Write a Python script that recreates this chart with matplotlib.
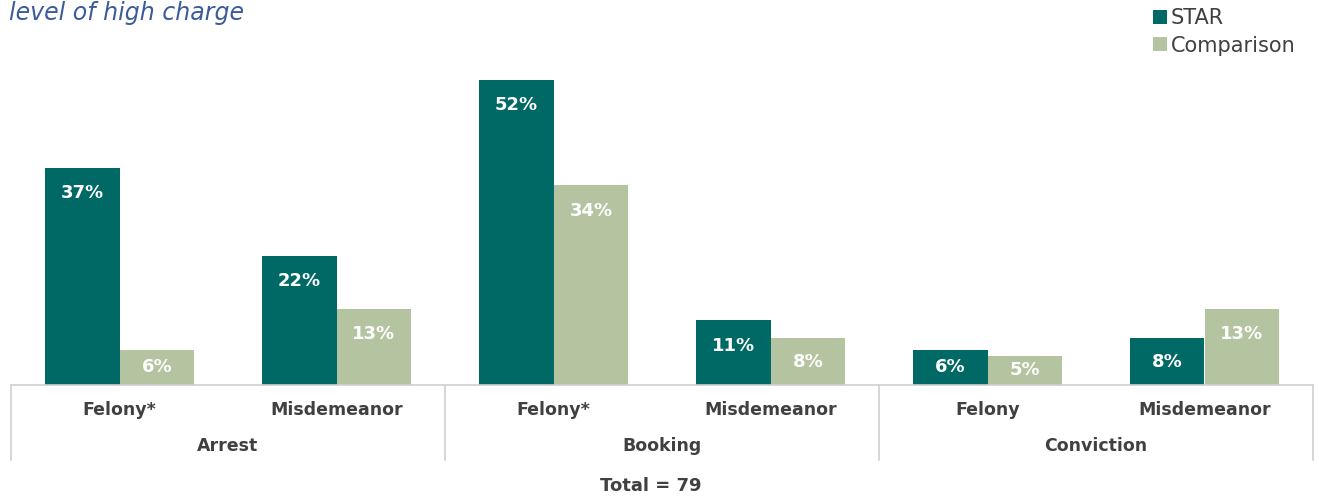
import matplotlib.pyplot as plt
import numpy as np

# data
groups = ['Arrest', 'Booking', 'Conviction']
charges = ['Felony*', 'Misdemeanor', 'Felony*', 'Misdemeanor', 'Felony', 'Misdemeanor']
star = [37, 22, 52, 11, 6, 8]
comparison = [6, 13, 34, 8, 5, 13]

STAR_COL = '#006966'
COMP_COL = '#B5C4A0'
TXT = '#404040'

plt.rcParams['font.family'] = ['DejaVu Sans']

W, H = 1319, 499
fig = plt.figure(figsize=(W / 100, H / 100), dpi=100)
# axes: pixels x 11..1313, y 62..385
ax = fig.add_axes([11 / W, (H - 385) / H, 1302 / W, (385 - 62) / H])

x = np.arange(len(charges))
bw = 0.345
b1 = ax.bar(x - bw / 2, star, bw, color=STAR_COL, label='STAR')
b2 = ax.bar(x + bw / 2, comparison, bw, color=COMP_COL, label='Comparison')

ax.set_xlim(-0.5, len(charges) - 0.5)
ax.set_ylim(0, 55)

# value labels inside the top of each bar
for bars, vals in ((b1, star), (b2, comparison)):
    for b, v in zip(bars, vals):
        y = v - min(4.3, v / 2)
        ax.text(b.get_x() + b.get_width() / 2, y, f'{v}%', ha='center', va='center',
                color='white', fontsize=13, fontweight='bold')

for s in ['top', 'right', 'left']:
    ax.spines[s].set_visible(False)
ax.spines['bottom'].set_color('#D0D0D0')
ax.spines['bottom'].set_linewidth(1.2)
ax.set_yticks([])
ax.set_xticks([])

# two level category axis
px = 1 / (385 - 62)
tr = ax.get_xaxis_transform()
for i, c in enumerate(charges):
    ax.text(i, -25 * px, c, transform=tr, ha='center', va='center',
            fontsize=12.5, fontweight='bold', color=TXT)
for g, name in enumerate(groups):
    ax.text(2 * g + 0.5, -61 * px, name, transform=tr, ha='center', va='center',
            fontsize=12.5, fontweight='bold', color=TXT)
for xs in [-0.5, 1.5, 3.5, 5.5]:
    ax.plot([xs, xs], [0, -75 * px], transform=tr, color='#D0D0D0', lw=1.2, clip_on=False)

fig.text(651 / W, 1 - 486 / H, 'Total = 79', ha='center', va='center',
         fontsize=13, fontweight='bold', color=TXT)

fig.text(9 / W, 1 - 13 / H, 'level of high charge', ha='left', va='center',
         fontsize=17, style='italic', color='#3B5B9A')

fig.legend(handles=[b1, b2], loc='upper left', bbox_to_anchor=(1145 / W, 1 - 0 / H),
           frameon=False, fontsize=15, handlelength=0.65, handleheight=0.65,
           handletextpad=0.2, labelspacing=0.35, labelcolor=TXT, borderaxespad=0)

fig.savefig('out.png', dpi=100)
